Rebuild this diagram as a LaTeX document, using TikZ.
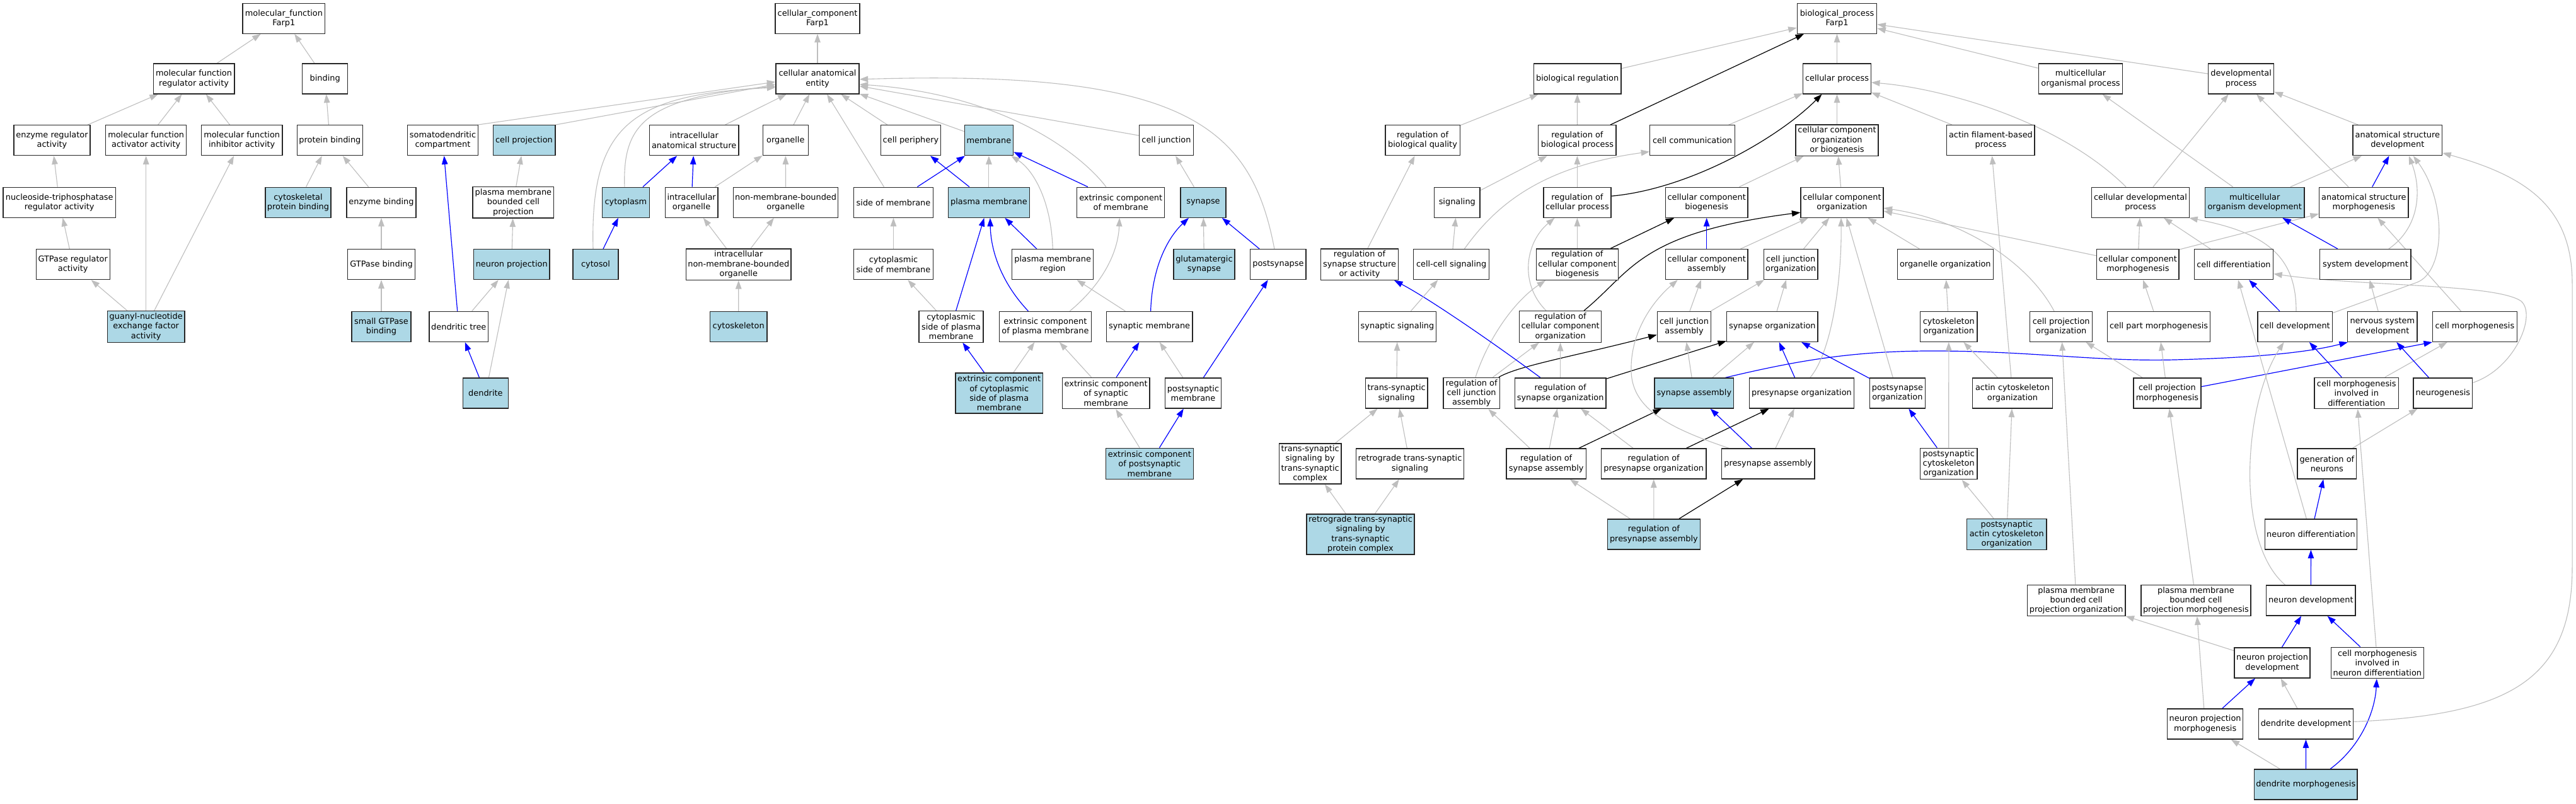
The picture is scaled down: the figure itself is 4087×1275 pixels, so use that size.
\documentclass[tikz,border=0pt]{standalone}
\usepackage{fontspec}
\setmainfont{DejaVu Sans}
\usetikzlibrary{arrows.meta,calc}
\definecolor{lb}{HTML}{ADD8E6}
\definecolor{eg}{HTML}{BEBEBE}
\definecolor{eb}{HTML}{0000FF}
\newcommand\gofont{\fontsize{12.9}{15.3}\selectfont}
\pgfdeclarelayer{back}
\pgfdeclarelayer{edges}
\pgfsetlayers{back,edges,main}
\tikzset{
 bx/.style={draw=black!85, line width=1.3pt, fill=white, font=\gofont, align=center, inner xsep=0pt, inner ysep=1pt, minimum height=48pt},
 hl/.style={bx, fill=lb},
 t3/.style={minimum height=49.5pt},
 t4/.style={minimum height=64pt},
 ge/.style={draw=eg, line width=1.1pt, -{Triangle[length=13.5pt,width=9.5pt]}},
 be/.style={ge, draw=eb, line width=1.2pt},
 ke/.style={ge, draw=black, line width=1.2pt},
}
\begin{document}
\begin{tikzpicture}[x=1pt,y=-1pt]
\begin{pgfonlayer}{back}
\fill[white] (0,0) rectangle (4087,1275);
\end{pgfonlayer}
\path[use as bounding box] (0,0) rectangle (4087,1275);
% ---------------- molecular function
\node[bx,minimum width=130.7] (mf) at (450.4,29.2) {molecular\_function\\Farp1};
\node[bx,minimum width=128.5] (mfreg) at (307.6,124.9) {molecular function\\regulator activity};
\node[bx,minimum width=72.2] (binding) at (515.7,124.9) {binding};
\node[bx,minimum width=121] (enzreg) at (82.5,222.7) {enzyme regulator\\activity};
\node[bx,minimum width=128] (mfact) at (231.7,222.7) {molecular function\\activator activity};
\node[bx,minimum width=128.5] (mfinh) at (383.7,222.7) {molecular function\\inhibitor activity};
\node[bx,minimum width=104.3] (protbind) at (523.4,222.7) {protein binding};
\node[bx,minimum width=178.7] (ntpreg) at (94.2,321.2) {nucleoside-triphosphatase\\regulator activity};
\node[hl,minimum width=103.9] (cytoprot) at (473,321.2) {cytoskeletal\\protein binding};
\node[bx,minimum width=110] (enzbind) at (605,321.2) {enzyme binding};
\node[bx,minimum width=117] (gtpreg) at (115.7,419.6) {GTPase regulator\\activity};
\node[bx,minimum width=107.4] (gtpbind) at (605,419.6) {GTPase binding};
\node[hl,t3,minimum width=122.8] (guanyl) at (231.7,518.4) {guanyl-nucleotide\\exchange factor\\activity};
\node[hl,minimum width=94.2] (smallgtp) at (605,518.4) {small GTPase\\binding};
% ---------------- cellular component
\node[bx,minimum width=134] (cc) at (1297,29.2) {cellular\_component\\Farp1};
\node[bx,minimum width=132] (cae) at (1297,124.9) {cellular anatomical\\entity};
\node[bx,minimum width=112.2] (sdc) at (702.5,222.7) {somatodendritic\\compartment};
\node[hl,minimum width=98.7] (cproj) at (831.5,222.7) {cell projection};
\node[bx,minimum width=141.6] (ias) at (1101.2,222.7) {intracellular\\anatomical structure};
\node[bx,minimum width=71.9] (org) at (1246.3,222.7) {organelle};
\node[bx,minimum width=94.6] (cper) at (1445,222.7) {cell periphery};
\node[hl,minimum width=77.2] (mem) at (1568.9,222.7) {membrane};
\node[bx,minimum width=85.7] (cj) at (1850.4,222.7) {cell junction};
\node[bx,t3,minimum width=128.6] (pmbcp) at (814.4,321.2) {plasma membrane\\bounded cell\\projection};
\node[hl,minimum width=75] (cyto) at (992.9,321.2) {cytoplasm};
\node[bx,minimum width=83.5] (io) at (1097.1,321.2) {intracellular\\organelle};
\node[bx,minimum width=166] (nmbo) at (1246.6,321.2) {non-membrane-bounded\\organelle};
\node[bx,minimum width=125.7] (som) at (1417.5,321.2) {side of membrane};
\node[hl,minimum width=129] (pm) at (1568.9,321.2) {plasma membrane};
\node[bx,minimum width=138.9] (ecm) at (1778.2,321.2) {extrinsic component\\of membrane};
\node[hl,minimum width=71.9] (syn) at (1909,321.2) {synapse};
\node[hl,minimum width=120.5] (nproj) at (811.7,419.6) {neuron projection};
\node[hl,minimum width=71.9] (cytosol) at (945,419.6) {cytosol};
\node[bx,t3,minimum width=166.5] (inmbo) at (1171.8,419.6) {intracellular\\non-membrane-bounded\\organelle};
\node[bx,minimum width=125.7] (csm) at (1417.5,419.6) {cytoplasmic\\side of membrane};
\node[bx,minimum width=129] (pmr) at (1670.2,419.6) {plasma membrane\\region};
\node[hl,minimum width=96.9] (glut) at (1910.4,419.6) {glutamatergic\\synapse};
\node[bx,minimum width=88.2] (psyn) at (2027.9,419.6) {postsynapse};
\node[bx,minimum width=93.7] (dtree) at (727.8,518.4) {dendritic tree};
\node[hl,minimum width=90.6] (cytosk) at (1171.7,518.4) {cytoskeleton};
\node[bx,t3,minimum width=102] (cspm) at (1509,518.4) {cytoplasmic\\side of plasma\\membrane};
\node[bx,minimum width=146.4] (ecpm) at (1658.4,518.4) {extrinsic component\\of plasma membrane};
\node[bx,minimum width=136.6] (synmem) at (1823.6,518.4) {synaptic membrane};
\node[hl,minimum width=71.9] (dendrite) at (770.4,624) {dendrite};
\node[hl,t4,minimum width=138.4] (ecc) at (1585.2,624) {extrinsic component\\of cytoplasmic\\side of plasma\\membrane};
\node[bx,t3,minimum width=138.8] (ecsm) at (1754.6,624) {extrinsic component\\of synaptic\\membrane};
\node[bx,minimum width=88.8] (psm) at (1893,624) {postsynaptic\\membrane};
\node[hl,t3,minimum width=138.8] (ecpsm) at (1823.8,736) {extrinsic component\\of postsynaptic\\membrane};
% ---------------- biological process
\node[bx,minimum width=126.4] (bp) at (2914.5,29.2) {biological\_process\\Farp1};
\node[bx,minimum width=138.8] (bioreg) at (2502.6,124.9) {biological regulation};
\node[bx,minimum width=107.6] (cproc) at (2914.5,124.9) {cellular process};
\node[bx,minimum width=133.5] (mop) at (3301,124.9) {multicellular\\organismal process};
\node[bx,minimum width=104.3] (devp) at (3555.6,124.9) {developmental\\process};
\node[bx,minimum width=118.3] (rbq) at (2257,222.7) {regulation of\\biological quality};
\node[bx,minimum width=123.2] (rbp) at (2502.4,222.7) {regulation of\\biological process};
\node[bx,minimum width=134.4] (ccomm) at (2685,222.7) {cell communication};
\node[bx,t3,minimum width=130.8] (ccob) at (2914.5,222.7) {cellular component\\organization\\or biogenesis};
\node[bx,minimum width=139.3] (afp) at (3158.4,222.7) {actin filament-based\\process};
\node[bx,minimum width=141.5] (asd) at (3803.8,222.7) {anatomical structure\\development};
\node[bx,minimum width=72.3] (sig) at (2311.8,321.2) {signaling};
\node[bx,minimum width=107.1] (rcp) at (2502.4,321.2) {regulation of\\cellular process};
\node[bx,minimum width=130.6] (ccb) at (2707.7,321.2) {cellular component\\biogenesis};
\node[bx,minimum width=130.9] (cco) at (2922.5,321.2) {cellular component\\organization};
\node[bx,minimum width=155.1] (cdp) at (3396,321.2) {cellular developmental\\process};
\node[hl,minimum width=157.3] (mod) at (3577.2,321.2) {multicellular\\organism development};
\node[bx,minimum width=141.5] (asm) at (3750.3,321.2) {anatomical structure\\morphogenesis};
\node[bx,t3,minimum width=122.8] (rss) at (2157,419.6) {regulation of\\synapse structure\\or activity};
\node[bx,minimum width=120.1] (ccs) at (2302.6,419.6) {cell-cell signaling};
\node[bx,t3,minimum width=130.4] (rccb) at (2502.4,419.6) {regulation of\\cellular component\\biogenesis};
\node[bx,minimum width=130.6] (cca) at (2707.7,419.6) {cellular component\\assembly};
\node[bx,minimum width=85.7] (cjo) at (2841.2,419.6) {cell junction\\organization};
\node[bx,minimum width=152.2] (oo) at (3086.3,419.6) {organelle organization};
\node[bx,minimum width=130.6] (ccm) at (3391.8,419.6) {cellular component\\morphogenesis};
\node[bx,minimum width=125.3] (cdiff) at (3543.9,419.6) {cell differentiation};
\node[bx,minimum width=144.2] (sysd) at (3752.9,419.6) {system development};
\node[bx,minimum width=123.3] (ss) at (2217,518.4) {synaptic signaling};
\node[bx,t3,minimum width=130.4] (rcco) at (2475.6,518.4) {regulation of\\cellular component\\organization};
\node[bx,minimum width=85.3] (cja) at (2672,518.4) {cell junction\\assembly};
\node[bx,minimum width=144.4] (so) at (2811.8,518.4) {synapse organization};
\node[bx,minimum width=90.6] (co) at (3091.8,518.4) {cytoskeleton\\organization};
\node[bx,minimum width=98.8] (cpo) at (3270.2,518.4) {cell projection\\organization};
\node[bx,minimum width=162.8] (cpartm) at (3425.1,518.4) {cell part morphogenesis};
\node[bx,minimum width=118.3] (cdev) at (3641,518.4) {cell development};
\node[bx,minimum width=110.4] (nsd) at (3779.8,518.4) {nervous system\\development};
\node[bx,minimum width=133.6] (cm) at (3926.4,518.4) {cell morphogenesis};
\node[bx,minimum width=98.7] (tss) at (2215.6,624) {trans-synaptic\\signaling};
\node[bx,t3,minimum width=89.2] (rcja) at (2334.6,624) {regulation of\\cell junction\\assembly};
\node[bx,minimum width=144.7] (rso) at (2475.6,624) {regulation of\\synapse organization};
\node[hl,minimum width=125.7] (sa) at (2687.8,624) {synapse assembly};
\node[bx,minimum width=165.7] (po) at (2858.4,624) {presynapse organization};
\node[bx,minimum width=87.8] (pso) at (3010.4,624) {postsynapse\\organization};
\node[bx,minimum width=126.5] (aco) at (3193,624) {actin cytoskeleton\\organization};
\node[bx,minimum width=106.9] (cpmo) at (3438.4,624) {cell projection\\morphogenesis};
\node[bx,t3,minimum width=133.3] (cmid) at (3738.7,624) {cell morphogenesis\\involved in\\differentiation};
\node[bx,minimum width=93.7] (ng) at (3875.9,624) {neurogenesis};
\node[bx,t4,minimum width=98.5] (tsc) at (2078.6,736) {trans-synaptic\\signaling by\\trans-synaptic\\complex};
\node[bx,minimum width=171] (rts) at (2237,736) {retrograde trans-synaptic\\signaling};
\node[bx,minimum width=126.3] (rsa) at (2453.2,736) {regulation of\\synapse assembly};
\node[bx,minimum width=166.6] (rpo) at (2623.7,736) {regulation of\\presynapse organization};
\node[bx,minimum width=147.6] (pa) at (2805.2,736) {presynapse assembly};
\node[bx,t3,minimum width=90.6] (psco) at (3091.7,736) {postsynaptic\\cytoskeleton\\organization};
\node[bx,minimum width=93.8] (gon) at (3691.8,736) {generation of\\neurons};
\node[hl,t4,minimum width=171] (rc) at (2158.5,848) {retrograde trans-synaptic\\signaling by\\trans-synaptic\\protein complex};
\node[hl,minimum width=147.3] (rpa) at (2623.9,848) {regulation of\\presynapse assembly};
\node[hl,t3,minimum width=126.4] (paco) at (3183.7,848) {postsynaptic\\actin cytoskeleton\\organization};
\node[bx,minimum width=146.4] (ndiff) at (3666.4,848) {neuron differentiation};
\node[bx,t3,minimum width=155.4] (pmo) at (3294.2,953) {plasma membrane\\bounded cell\\projection organization};
\node[bx,t3,minimum width=174] (pmm) at (3483.9,953) {plasma membrane\\bounded cell\\projection morphogenesis};
\node[bx,minimum width=141.1] (ndev) at (3666.3,953) {neuron development};
\node[bx,minimum width=120] (npd) at (3605,1052) {neuron projection\\development};
\node[bx,t3,minimum width=146.8] (cmind) at (3771.8,1052) {cell morphogenesis\\involved in\\neuron differentiation};
\node[bx,minimum width=120] (npm) at (3498.6,1149) {neuron projection\\morphogenesis};
\node[bx,minimum width=149.8] (ddev) at (3658.5,1149) {dendrite development};
\node[hl,minimum width=163.4] (dm) at (3658.3,1245) {dendrite morphogenesis};

\begin{pgfonlayer}{edges}
% ---- MF edges
\draw[ge] (mfreg) -- (mf);
\draw[ge] (binding) -- (mf);
\draw[ge] (enzreg) -- (mfreg);
\draw[ge] (mfact) -- (mfreg);
\draw[ge] (mfinh) -- (mfreg);
\draw[ge] (protbind) -- (binding);
\draw[ge] (ntpreg) -- (enzreg);
\draw[ge] (cytoprot) -- (protbind);
\draw[ge] (enzbind) -- (protbind);
\draw[ge] (gtpreg) -- (ntpreg);
\draw[ge] (gtpbind) -- (enzbind);
\draw[ge] (guanyl) -- (gtpreg);
\draw[ge] (guanyl) -- (mfact);
\draw[ge] (guanyl) -- (mfinh);
\draw[ge] (smallgtp) -- (gtpbind);
% ---- CC edges
\draw[ge] (cae) -- (cc);
\draw[ge] ($(sdc.north east)+(-1,0)$) -- ($(cae.west)+(0,5)$);
\draw[ge] (cproj.north east) -- ($(cae.west)+(0,9)$);
\draw[ge] ($(cytosol.north)+(-4,0)$) .. controls (936,200) and (1000,150) .. ($(cae.west)+(0,14)$);
\draw[ge] ($(cyto.north)+(-2,0)$) .. controls (988,200) and (1020,155) .. ($(cae.west)+(0,12)$);
\draw[ge] (ias) -- (cae);
\draw[ge] (org) -- (cae);
\draw[ge] (som) -- (cae);
\draw[ge] (cper) -- (cae);
\draw[ge] (mem) -- (cae);
\draw[ge] ($(ecm.north)+(-23.4,0)$) .. controls (1720,250) and (1600,150) .. ($(cae.east)+(0,9)$);
\draw[ge] (cj) -- (cae);
\draw[ge] ($(psyn.north)+(-6,0)$) .. controls (1985,200) and (1880,110) .. ($(cae.east)+(0,1)$);
\draw[be] (dtree) -- (sdc);
\draw[ge] (pmbcp) -- (cproj);
\draw[ge] (nproj) -- (pmbcp);
\draw[ge] (dtree) -- (nproj);
\draw[ge] (dendrite) -- (nproj);
\draw[be] (dendrite) -- (dtree);
\draw[be] (cyto) -- (ias);
\draw[be] (io) -- (ias);
\draw[be] (cytosol) -- (cyto);
\draw[ge] (io) -- (org);
\draw[ge] (nmbo) -- (org);
\draw[ge] (inmbo) -- (io);
\draw[ge] (inmbo) -- (nmbo);
\draw[ge] (cytosk) -- (inmbo);
\draw[be] (som) -- (mem);
\draw[be] (pm) -- (cper);
\draw[ge] (pm) -- (mem);
\draw[ge] (pmr.north) .. controls (1668,320) and (1640,270) .. ($(mem.south east)+(-4,0)$);
\draw[be] (ecm) -- (mem);
\draw[ge] (syn) -- (cj);
\draw[ge] (csm) -- (som);
\draw[be] (pmr) -- (pm);
\draw[ge] (glut) -- (syn);
\draw[be] (psyn) -- (syn);
\draw[ge] (cspm) -- (csm);
\draw[be] (cspm) -- (pm);
\draw[be] ($(ecpm.north)+(-27,0)$) .. controls (1590,450) and (1572,400) .. ($(pm.south)+(2,0)$);
\draw[ge] ($(ecpm.north)+(38.8,0)$) .. controls (1750,450) and (1774,400) .. ($(ecm.south)+(-2,0)$);
\draw[ge] (synmem) -- (pmr);
\draw[be] ($(synmem.north)+(2,0)$) .. controls (1828,420) and (1855,375) .. ($(syn.south)+(-23,0)$);
\draw[be] (ecc) -- (cspm);
\draw[ge] (ecc) -- (ecpm);
\draw[ge] (ecsm) -- (ecpm);
\draw[be] (ecsm) -- (synmem);
\draw[ge] (psm) -- (synmem);
\draw[be] (psm) -- (psyn);
\draw[ge] (ecpsm) -- (ecsm);
\draw[be] (ecpsm) -- (psm);
% ---- BP edges
\draw[ge] (bioreg) -- (bp);
\draw[ke] (rbp) -- (bp);
\draw[ge] (cproc) -- (bp);
\draw[ge] (mop) -- (bp);
\draw[ge] (devp) -- (bp);
\draw[ge] (rbq) -- (bioreg);
\draw[ge] (rbp) -- (bioreg);
\draw[ge] (ccomm) -- (cproc);
\draw[ke] ($(rcp.east)+(0,-10)$) .. controls (2680,300) and (2820,220) .. ($(cproc.south)+(-24,0)$);
\draw[ge] (ccob) -- (cproc);
\draw[ge] (afp) -- (cproc);
\draw[ge] ($(cdp.north)+(-23,0)$) .. controls (3265,190) and (3080,140) .. ($(cproc.east)+(0,6)$);
\draw[ge] (sig) -- (rbp);
\draw[ge] (rcp) -- (rbp);
\draw[ge] (rccb) -- (rcp);
\draw[ke] (rccb) -- (ccb);
\draw[ge] ($(rcco.north)+(-22.6,0)$) .. controls (2410,450) and (2420,385) .. ($(rcp.south)+(-36,0)$);
\draw[ke] ($(rcco.north)+(37.4,0)$) .. controls (2590,430) and (2600,370) .. ($(cco.west)+(0,16)$);
\draw[ge] ($(rcja.north)+(6.4,0)$) .. controls (2360,540) and (2400,480) .. ($(rccb.south)+(-50.4,0)$);
\draw[ge] (rcja) -- (rcco);
\draw[ke] ($(rcja.north east)+(-2,0)$) .. controls (2410,580) and (2500,565) .. ($(cja.west)+(0,13)$);
\draw[ge] (rso) -- (rcco);
\draw[ke] (rso) -- (so);
\draw[be] ($(rso.north)+(-31.6,0)$) .. controls (2350,530) and (2260,470) .. ($(rss.south)+(55,0)$);
\draw[ge] (rss) -- (rbq);
\draw[ge] (ccs) -- (sig);
\draw[ge] ($(ccs.north)+(20.8,0)$) .. controls (2370,330) and (2440,265) .. ($(ccomm.west)+(0,18)$);
\draw[ge] (ss) -- (ccs);
\draw[ge] (tss) -- (ss);
\draw[ge] (tsc) -- (tss);
\draw[ge] (rts) -- (tss);
\draw[ge] (rc) -- (tsc);
\draw[ge] (rc) -- (rts);
\draw[ge] (rsa) -- (rcja);
\draw[ge] (rsa) -- (rso);
\draw[ke] (rsa) -- (sa);
\draw[ge] (rpo) -- (rso);
\draw[ke] (rpo) -- (po);
\draw[ge] (rpa) -- (rsa);
\draw[ge] (rpa) -- (rpo);
\draw[ke] (rpa) -- (pa);
\draw[ge] (ccb) -- (ccob);
\draw[ge] (cco) -- (ccob);
\draw[be] (cca) -- (ccb);
\draw[ge] (cca) -- (cco);
\draw[ge] (cjo) -- (cco);
\draw[ge] (cja) -- (cca);
\draw[ge] (cja) -- (cjo);
\draw[ge] (so) -- (cjo);
\draw[ge] (sa) -- (cja);
\draw[ge] (sa) -- (so);
\draw[be] ($(sa.north east)+(-14,0)$) .. controls (2860,570) and (2950,556) .. (3080,557)
   .. controls (3230,558) and (3330,574) .. (3450,571)
   .. controls (3570,568) and (3660,560) .. ($(nsd.south west)+(1,0)$);
\draw[be] (po) -- (so);
\draw[ge] ($(po.north)+(13.4,0)$) .. controls (2905,560) and (2922,450) .. ($(cco.south)+(-1.5,0)$);
\draw[be] (pso) -- (so);
\draw[ge] (pso) -- (cco);
\draw[ge] ($(pa.north)+(-62,0)$) .. controls (2650,680) and (2590,650) .. (2588,590)
   .. controls (2586,530) and (2620,480) .. ($(cca.south)+(-46,0)$);
\draw[be] (pa) -- (sa);
\draw[ge] (pa) -- (po);
\draw[ge] (oo) -- (cco);
\draw[ge] (co) -- (oo);
\draw[ge] (aco) -- (co);
\draw[ge] (aco) -- (afp);
\draw[ge] ($(cpo.north)+(-11.2,0)$) .. controls (3220,420) and (3120,350) .. ($(cco.east)+(0,9)$);
\draw[ge] (ccm) -- (cco);
\draw[ge] (ccm) -- (cdp);
\draw[ge] ($(ccm.north east)+(0,1)$) -- (asm);
\draw[ge] (cpartm) -- (ccm);
\draw[ge] (cpmo) -- (cpartm);
\draw[ge] (cpmo) -- (cpo);
\draw[be] (cpmo) -- (cm.south west);
\draw[be] (psco) -- (pso);
\draw[ge] (psco) -- (co);
\draw[ge] (paco) -- (psco);
\draw[ge] (paco) -- (aco);
\draw[ge] (pmo) -- (cpo);
\draw[ge] (npd) -- (pmo);
\draw[ge] (pmm) -- (cpmo);
\draw[ge] (npm) -- (pmm);
\draw[be] (npm) -- (npd);
\draw[ge] (ddev) -- (npd);
\draw[ge] (dm) -- (npm);
\draw[be] (dm) -- (ddev);
\draw[be] ($(dm.north)+(38.7,0)$) .. controls (3745,1185) and (3768,1130) .. ($(cmind.south)+(-1,0)$);
\draw[ge] ($(ddev.east)+(0,-3.6)$) .. controls (3980,1135) and (4081,1080) .. (4081,900)
   -- (4081,450) .. controls (4081,330) and (4010,280) .. ($(asd.east)+(0,20)$);
\draw[be] (npd) -- (ndev);
\draw[be] (cmind) -- (ndev);
\draw[ge] (cmind) -- (cmid);
\draw[be] (ndev) -- (ndiff);
\draw[ge] ($(ndev.north)+(-40.7,0)$) .. controls (3545,860) and (3560,640) .. ($(cdev.south)+(-17.5,0)$);
\draw[ge] (ndiff) -- (cdiff);
\draw[be] (ndiff) -- (gon);
\draw[ge] (gon) -- (ng);
\draw[be] (cmid) -- (cdev);
\draw[ge] (cmid) -- (cm);
\draw[be] (ng) -- (nsd);
\draw[ge] ($(ng.east)+(0,-16.7)$) .. controls (3990,585) and (4025,500) .. (4000,478)
   .. controls (3960,450) and (3750,455) .. ($(cdiff.east)+(0,15)$);
\draw[ge] (cm) -- (asm);
\draw[ge] ($(cdev.north)+(2,0)$) .. controls (3643,410) and (3600,370) .. ($(cdp.south east)+(-1,0)$);
\draw[ge] ($(cdev.north east)+(0,3)$) -- (3835,448) .. controls (3880,430) and (3882,320) .. ($(asd.south)+(25,0)$);
\draw[ge] (cdiff) -- (cdp);
\draw[be] (cdev) -- (cdiff);
\draw[be] (sysd) -- (mod);
\draw[ge] ($(sysd.north)+(37,0)$) .. controls (3840,360) and (3842,300) .. ($(asd.south)+(18,0)$);
\draw[ge] (nsd) -- (sysd);
\draw[be] (asm) -- (asd);
\draw[ge] (asm) -- (devp);
\draw[ge] (mod) -- (asd);
\draw[ge] (mod) -- (mop);
\draw[ge] (cdp) -- (devp);
\draw[ge] (asd) -- (devp);
\end{pgfonlayer}
\end{tikzpicture}
\end{document}
